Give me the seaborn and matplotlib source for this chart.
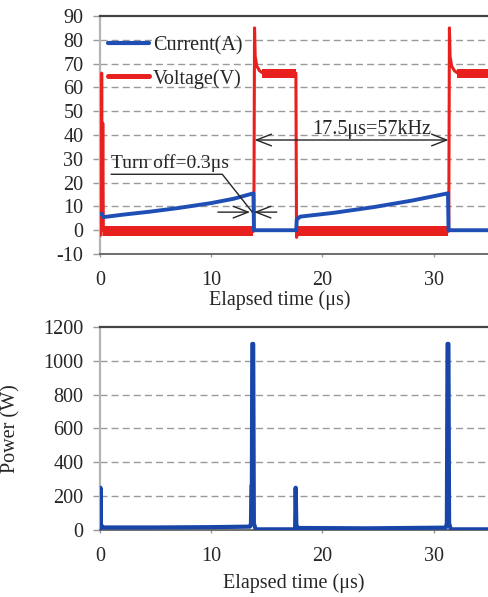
import matplotlib
matplotlib.use("Agg")
import matplotlib.pyplot as plt
from matplotlib.lines import Line2D
import seaborn as sns
import pandas as pd

# ---- waveform breakpoints (time in microseconds) ----
cur_t = [0.12, 0.30, 2.0, 4.5, 7.0, 10.0, 12.0, 13.80, 13.85,
         17.65, 17.70, 18.0, 21.0, 24.6, 28.0, 31.30, 31.35, 34.9]
cur_a = [7.0, 5.5, 6.5, 7.8, 9.3, 11.4, 13.2, 15.5, 0.0,
         0.0, 4.5, 5.7, 7.3, 9.7, 12.4, 15.5, 0.0, 0.0]

volt_t = [0.00, 0.10, 0.15, 0.20, 0.25, 0.30, 0.40, 13.80, 13.84, 13.90,
          13.96, 14.10, 14.35, 14.65, 17.62, 17.68, 17.75, 18.00, 31.33, 31.37,
          31.43, 31.49, 31.63, 31.88, 32.18, 34.90]
volt_v = [-2.0, -2.0, 66.0, 0.0, 45.0, 0.0, -0.5, -0.5, 0.0, 85.0,
          73.0, 69.0, 67.0, 66.0, 66.0, -3.0, -1.5, -0.5, -0.5, 0.0,
          85.0, 73.0, 69.0, 67.0, 66.0, 66.0]

# ripple envelope of the switching node voltage: (start, end, low, high)
ripple_start = [0.30, 14.60, 17.80, 32.10]
ripple_end = [13.80, 17.60, 31.33, 34.90]
ripple_low = [-2.6, 64.0, -2.6, 64.0]
ripple_high = [1.6, 67.8, 1.6, 67.8]

pow_t = [0.00, 0.04, 0.08, 0.30, 5.0, 10.0, 13.50, 13.58, 13.62, 13.66,
         13.70, 13.78, 13.84, 14.00, 17.55, 17.60, 17.66, 17.80, 24.0, 31.10,
         31.20, 31.26, 31.34, 31.40, 31.55, 34.90]
pow_w = [0, 250, 30, 15, 15, 17, 20, 40, 260, 260,
         1100, 1100, 40, 4, 4, 250, 30, 12, 10, 14,
         40, 1100, 1100, 40, 4, 4]

volt_ticks = list(range(-10, 91, 10))
pow_ticks = list(range(0, 1201, 200))
time_ticks = [0, 10, 20, 30]

BLUE = "#1f4fb5"
RED = "#e8201e"
PBLUE = "#1745a8"
GRID = "#9a9a9a"
INK = "#262626"

sns.set_theme(style="white")
plt.rcParams["font.family"] = ["Liberation Serif", "DejaVu Serif"]
plt.rcParams["axes.unicode_minus"] = False
plt.rcParams["text.color"] = INK
plt.rcParams["xtick.labelcolor"] = INK
plt.rcParams["ytick.labelcolor"] = INK

fig = plt.figure(figsize=(4.88, 5.97), dpi=100)
ax1 = fig.add_axes([0.2049, 0.5745, 0.7951, 0.3987])
ax2 = fig.add_axes([0.2049, 0.1122, 0.7951, 0.3401])

df_cur = pd.DataFrame({"t": cur_t, "v": cur_a})
df_volt = pd.DataFrame({"t": volt_t, "v": volt_v})
df_pow = pd.DataFrame({"t": pow_t, "v": pow_w})

# ---- top panel: current and voltage ----
for s, e, lo, hi in zip(ripple_start, ripple_end, ripple_low, ripple_high):
    ax1.fill_between([s, e], [lo, lo], [hi, hi], color=RED, lw=0, zorder=2)
sns.lineplot(data=df_volt, x="t", y="v", ax=ax1, color=RED, lw=2.2,
             estimator=None, sort=False, zorder=3)
sns.lineplot(data=df_cur, x="t", y="v", ax=ax1, color=BLUE, lw=2.8,
             estimator=None, sort=False, zorder=4)

ax1.set_xlim(0, 34.9)
ax1.set_ylim(-10, 90)
ax1.set_yticks(volt_ticks)
ax1.set_xticks(time_ticks)

# ---- bottom panel: power ----
sns.lineplot(data=df_pow, x="t", y="v", ax=ax2, color=PBLUE, lw=3.0,
             estimator=None, sort=False, zorder=3)
ax2.set_xlim(0, 34.9)
ax2.set_ylim(0, 1200)
ax2.set_yticks(pow_ticks)
ax2.set_xticks(time_ticks)

for ax in (ax1, ax2):
    lo, hi = ax.get_ylim()
    for yv in ax.get_yticks():
        if lo < yv < hi:
            ax.axhline(yv, color=GRID, lw=1.0, ls=(0, (5, 3)), zorder=1)
    ax.spines["right"].set_visible(False)
    ax.spines["top"].set_color("#444444")
    ax.spines["top"].set_linewidth(1.6)
    ax.spines["bottom"].set_color("#555555")
    ax.spines["bottom"].set_linewidth(1.2)
    ax.spines["left"].set_color("#b5b5b5")
    ax.spines["left"].set_linewidth(1.6)
    ax.tick_params(axis="y", direction="out", length=5, width=1.0,
                   color=GRID, pad=7, labelsize=14.5, left=True)
    ax.tick_params(axis="x", direction="out", length=2, width=1.0,
                   color=GRID, pad=10, labelsize=14.5, bottom=True)
    ax.set_xlabel("Elapsed time (\u03bcs)", fontsize=14.5)

ax1.set_ylabel("")
ax1.xaxis.set_label_coords(0.464, -0.152)
ax2.xaxis.set_label_coords(0.5, -0.212)
ax2.set_ylabel("Power (W)", fontsize=14.5)
ax2.yaxis.set_label_coords(-0.205, 0.5)

# legend
handles = [Line2D([], [], color=BLUE, lw=3.0), Line2D([], [], color=RED, lw=3.6)]
ax1.legend(handles, ["Current(A)", "Voltage(V)"], loc="upper left",
           bbox_to_anchor=(0.02, 0.915), frameon=False, fontsize=14.5,
           handlelength=2.05, handletextpad=0.2, labelspacing=0.66,
           borderpad=0, borderaxespad=0)

# turn-off annotation
ax1.text(1.0, 24.3, "Turn off=0.3\u03bcs", fontsize=14, ha="left", va="bottom")
ax1.plot([1.0, 11.0, 13.7], [23.5, 23.5, 7.6], color=INK, lw=1.0, zorder=5)
arrow = dict(arrowstyle="->,head_length=0.9,head_width=0.35", color=INK,
             lw=1.0, shrinkA=0, shrinkB=0)
ax1.annotate("", xy=(13.5, 7.6), xytext=(10.6, 7.6), arrowprops=arrow, zorder=5)
ax1.annotate("", xy=(13.85, 7.6), xytext=(15.9, 7.6), arrowprops=arrow, zorder=5)

# period annotation
darrow = dict(arrowstyle="<->,head_length=0.9,head_width=0.35", color=INK,
              lw=1.0, shrinkA=0, shrinkB=0)
ax1.annotate("", xy=(13.9, 37.9), xytext=(31.35, 37.9), arrowprops=darrow, zorder=5)
ax1.text(24.4, 38.3, "17.5\u03bcs=57kHz", fontsize=14.5, ha="center", va="bottom")

fig.savefig("out.png", dpi=100)
